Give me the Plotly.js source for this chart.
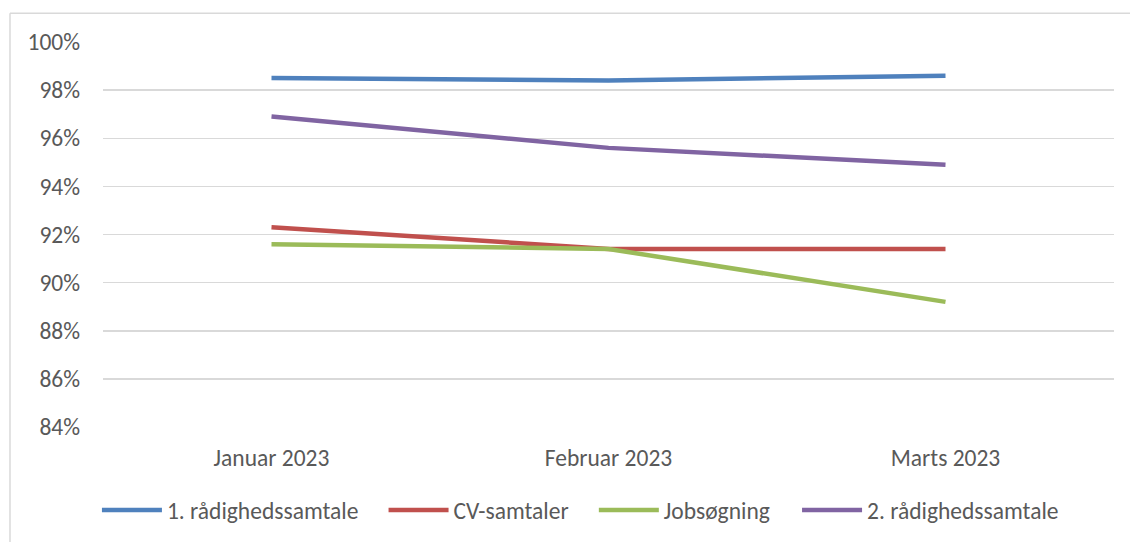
<!DOCTYPE html>
<html>
<head>
<meta charset="utf-8">
<script src="https://cdn.plot.ly/plotly-3.0.1.min.js"></script>
<style>html,body{margin:0;padding:0;background:#fff;}#chart{width:1130px;height:542px;}</style>
</head>
<body>
<div id="chart"></div>
<script>
const categories = ["Januar 2023", "Februar 2023", "Marts 2023"];
const seriesNames = ["1. rådighedssamtale", "CV-samtaler", "Jobsøgning", "2. rådighedssamtale"];
const raadighed1 = [0.985, 0.984, 0.986];
const cvSamtaler = [0.923, 0.914, 0.914];
const jobsoegning = [0.916, 0.914, 0.892];
const raadighed2 = [0.969, 0.956, 0.949];
const yTicks = [0.84, 0.86, 0.88, 0.90, 0.92, 0.94, 0.96, 0.98, 1.00];
const yTickLabels = ["84%", "86%", "88%", "90%", "92%", "94%", "96%", "98%", "100%"];

const colors = ["#4F81BD", "#C0504D", "#9BBB59", "#8064A2"];
const allValues = [raadighed1, cvSamtaler, jobsoegning, raadighed2];
const legendIds = ["legend", "legend2", "legend3", "legend4"];
const legendX = [-0.006, 0.2775, 0.4855, 0.6865];

const traces = allValues.map((vals, i) => ({
  type: "scatter",
  mode: "lines",
  x: categories,
  y: vals,
  name: seriesNames[i],
  legend: legendIds[i],
  line: {color: colors[i], width: 4.5},
  hoverinfo: "x+y+name"
}));

const font = "Carlito, Calibri, 'Open Sans', 'Noto Sans', sans-serif";
const fs = 23.5;

const layout = {
  width: 1130,
  height: 542,
  margin: {l: 103, r: 16, t: 42, b: 115, pad: 0, autoexpand: false},
  paper_bgcolor: "#ffffff",
  plot_bgcolor: "#ffffff",
  showlegend: true,
  font: {family: font, color: "#595959", size: fs},
  xaxis: {
    type: "category",
    range: [-0.5, 2.5],
    showgrid: false,
    zeroline: false,
    showline: false,
    automargin: false,
    ticks: "",
    ticklabelstandoff: 14,
    tickfont: {family: font, size: fs, color: "#595959"},
    fixedrange: true
  },
  yaxis: {
    range: [0.84, 1.00],
    tickvals: yTicks,
    ticktext: yTickLabels,
    showgrid: true,
    gridcolor: "#D9D9D9",
    gridwidth: 1.5,
    zeroline: false,
    showline: false,
    automargin: false,
    ticks: "",
    ticklabelstandoff: 22,
    tickfont: {family: font, size: fs, color: "#595959"},
    fixedrange: true
  },
  shapes: [
    {type: "line", xref: "paper", yref: "paper", x0: -0.092, x1: 1.02, y0: 1.075, y1: 1.075, line: {color: "#D9D9D9", width: 1.5}},
    {type: "line", xref: "paper", yref: "paper", x0: -0.092, x1: -0.092, y0: 1.075, y1: -0.3, line: {color: "#D9D9D9", width: 1.5}}
  ]
};

legendIds.forEach((id, i) => {
  layout[id] = {
    orientation: "h",
    x: legendX[i],
    xanchor: "left",
    y: -0.216,
    yanchor: "middle",
    bgcolor: "rgba(0,0,0,0)",
    font: {family: font, size: fs, color: "#595959"},
    itemwidth: 60
  };
});

Plotly.newPlot("chart", traces, layout, {displayModeBar: false, staticPlot: true});
</script>
</body>
</html>
